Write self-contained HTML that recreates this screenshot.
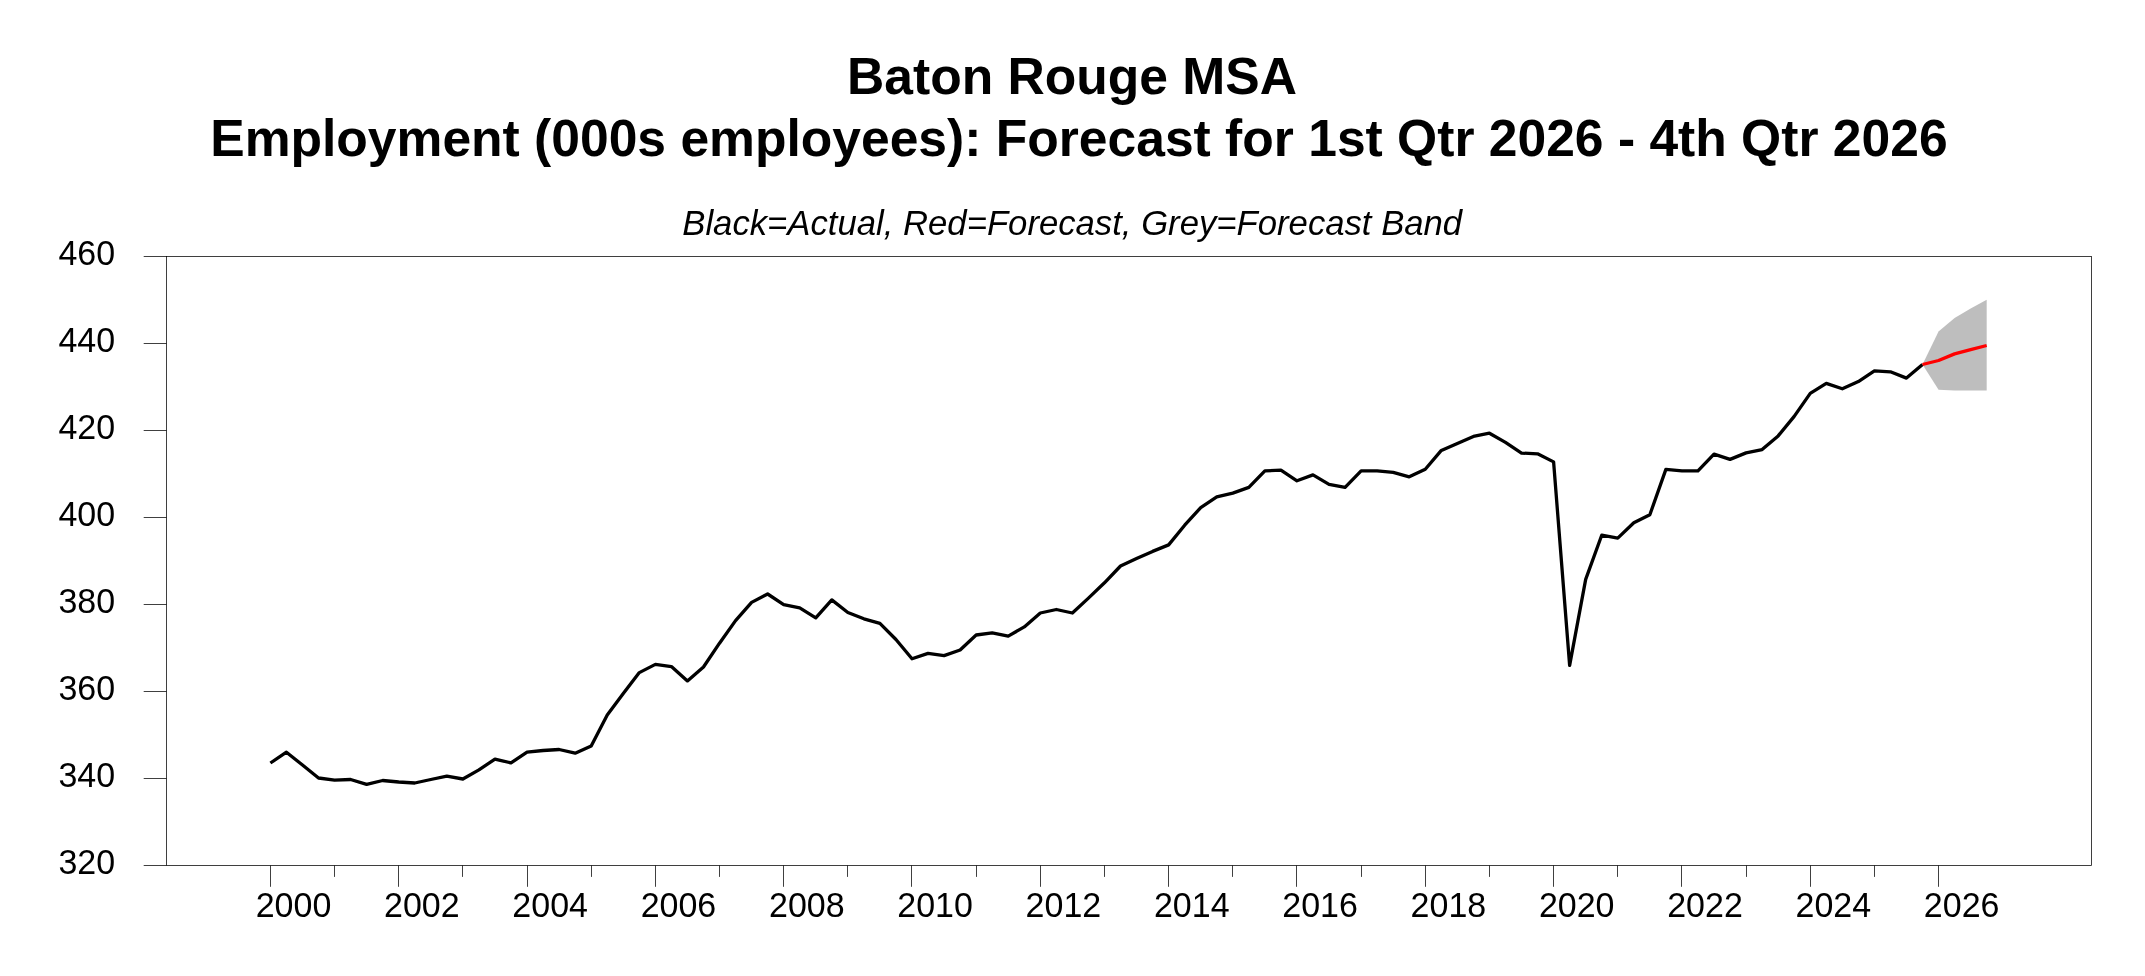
<!DOCTYPE html>
<html><head><meta charset="utf-8"><title>Baton Rouge MSA Employment Forecast</title>
<style>
html,body{margin:0;padding:0;background:#fff;}
body{width:2145px;height:976px;overflow:hidden;}
svg{display:block;will-change:transform;font-family:"Liberation Sans",sans-serif;}
.ax line,.ax rect{stroke:#000;stroke-width:0.75;fill:none;}
.lab text{font-size:34.0px;fill:#000;}
.ttl{font-size:51.6px;font-weight:bold;fill:#000;text-anchor:middle;white-space:pre;}
.sub{font-size:34.7px;font-style:italic;fill:#000;text-anchor:middle;}
</style></head>
<body>
<svg width="2145" height="976" viewBox="0 0 2145 976">
<rect x="0" y="0" width="2145" height="976" fill="#ffffff"/>
<text class="ttl" transform="translate(1072.00 93.80) scale(1 1.016)">Baton Rouge MSA</text>
<text class="ttl" transform="translate(1078.90 156.30) scale(1 1.016)">Employment (000s employees): Forecast for 1st Qtr 2026 - 4th Qtr 2026</text>
<text class="sub" transform="translate(1072.20 234.90) scale(1 1.033)">Black=Actual, Red=Forecast, Grey=Forecast Band</text>
<polygon points="1922.52,364.5 1938.56,331.5 1954.60,318.0 1970.64,308.6 1986.68,299.7 1986.68,390.4 1970.64,390.4 1954.60,390.4 1938.56,389.7 1922.52,364.5" fill="#bebebe"/>
<polyline points="270.40,763.0 286.44,752.2 302.48,765.0 318.52,778.0 334.56,780.1 350.60,779.5 366.64,784.4 382.68,780.5 398.72,782.0 414.76,783.0 430.80,779.5 446.84,776.2 462.88,779.0 478.92,769.9 494.96,759.1 511.00,762.9 527.04,752.2 543.08,750.5 559.12,749.5 575.16,753.2 591.20,746.0 607.24,715.0 623.28,693.6 639.32,672.6 655.36,664.4 671.40,666.6 687.44,680.9 703.48,667.0 719.52,643.2 735.56,620.6 751.60,602.4 767.64,594.0 783.68,604.6 799.72,607.8 815.76,617.9 831.80,599.9 847.84,612.5 863.88,618.8 879.92,623.4 895.96,639.5 912.00,658.8 928.04,653.4 944.08,655.6 960.12,650.0 976.16,635.0 992.20,632.8 1008.24,636.1 1024.28,626.9 1040.32,613.0 1056.36,609.5 1072.40,613.0 1088.44,598.1 1104.48,582.8 1120.52,566.0 1136.56,558.5 1152.60,551.4 1168.64,544.9 1184.68,525.2 1200.72,507.6 1216.76,496.9 1232.80,493.1 1248.84,487.4 1264.88,470.9 1280.92,470.1 1296.96,480.8 1313.00,474.9 1329.04,484.4 1345.08,487.4 1361.12,470.8 1377.16,470.8 1393.20,472.4 1409.24,476.8 1425.28,469.2 1441.32,450.4 1457.36,443.4 1473.40,436.4 1489.44,433.2 1505.48,442.4 1521.52,453.1 1537.56,453.8 1553.60,461.9 1569.64,665.4 1585.68,579.4 1601.72,535.2 1617.76,538.1 1633.80,522.8 1649.84,514.8 1665.88,469.4 1681.92,470.8 1697.96,470.9 1714.00,454.1 1730.04,459.4 1746.08,452.9 1762.12,449.6 1778.16,435.9 1794.20,416.4 1810.24,393.4 1826.28,383.4 1842.32,388.8 1858.36,381.6 1874.40,370.9 1890.44,371.8 1906.48,378.1 1922.52,364.5" fill="none" stroke="#000" stroke-width="3.3" stroke-linejoin="round" stroke-linecap="butt"/>
<polyline points="1922.52,364.5 1938.56,360.5 1954.60,353.9 1970.64,349.6 1986.68,345.5" fill="none" stroke="#ff0000" stroke-width="3.3" stroke-linejoin="round" stroke-linecap="butt"/>
<g class="ax">
<rect x="166.5" y="256.5" width="1925.0" height="609.0"/>
<line x1="143.7" y1="865.5" x2="166.5" y2="865.5"/><line x1="143.7" y1="778.5" x2="166.5" y2="778.5"/><line x1="143.7" y1="691.5" x2="166.5" y2="691.5"/><line x1="143.7" y1="604.5" x2="166.5" y2="604.5"/><line x1="143.7" y1="517.5" x2="166.5" y2="517.5"/><line x1="143.7" y1="430.5" x2="166.5" y2="430.5"/><line x1="143.7" y1="343.5" x2="166.5" y2="343.5"/><line x1="143.7" y1="256.5" x2="166.5" y2="256.5"/>
<line x1="270.5" y1="865.5" x2="270.5" y2="886.8"/><line x1="334.5" y1="865.5" x2="334.5" y2="876.9"/><line x1="398.5" y1="865.5" x2="398.5" y2="886.8"/><line x1="462.5" y1="865.5" x2="462.5" y2="876.9"/><line x1="527.5" y1="865.5" x2="527.5" y2="886.8"/><line x1="591.5" y1="865.5" x2="591.5" y2="876.9"/><line x1="655.5" y1="865.5" x2="655.5" y2="886.8"/><line x1="719.5" y1="865.5" x2="719.5" y2="876.9"/><line x1="783.5" y1="865.5" x2="783.5" y2="886.8"/><line x1="847.5" y1="865.5" x2="847.5" y2="876.9"/><line x1="911.5" y1="865.5" x2="911.5" y2="886.8"/><line x1="976.5" y1="865.5" x2="976.5" y2="876.9"/><line x1="1040.5" y1="865.5" x2="1040.5" y2="886.8"/><line x1="1104.5" y1="865.5" x2="1104.5" y2="876.9"/><line x1="1168.5" y1="865.5" x2="1168.5" y2="886.8"/><line x1="1232.5" y1="865.5" x2="1232.5" y2="876.9"/><line x1="1296.5" y1="865.5" x2="1296.5" y2="886.8"/><line x1="1361.5" y1="865.5" x2="1361.5" y2="876.9"/><line x1="1425.5" y1="865.5" x2="1425.5" y2="886.8"/><line x1="1489.5" y1="865.5" x2="1489.5" y2="876.9"/><line x1="1553.5" y1="865.5" x2="1553.5" y2="886.8"/><line x1="1617.5" y1="865.5" x2="1617.5" y2="876.9"/><line x1="1681.5" y1="865.5" x2="1681.5" y2="886.8"/><line x1="1746.5" y1="865.5" x2="1746.5" y2="876.9"/><line x1="1810.5" y1="865.5" x2="1810.5" y2="886.8"/><line x1="1874.5" y1="865.5" x2="1874.5" y2="876.9"/><line x1="1938.5" y1="865.5" x2="1938.5" y2="886.8"/>
</g>
<g class="lab">
<text text-anchor="end" transform="translate(115.10 874.30) scale(1 1.033)">320</text><text text-anchor="end" transform="translate(115.10 787.30) scale(1 1.033)">340</text><text text-anchor="end" transform="translate(115.10 700.30) scale(1 1.033)">360</text><text text-anchor="end" transform="translate(115.10 613.30) scale(1 1.033)">380</text><text text-anchor="end" transform="translate(115.10 526.30) scale(1 1.033)">400</text><text text-anchor="end" transform="translate(115.10 439.30) scale(1 1.033)">420</text><text text-anchor="end" transform="translate(115.10 352.30) scale(1 1.033)">440</text><text text-anchor="end" transform="translate(115.10 265.30) scale(1 1.033)">460</text>
<text transform="translate(255.70 916.90) scale(1 1.033)">2000</text><text transform="translate(384.02 916.90) scale(1 1.033)">2002</text><text transform="translate(512.34 916.90) scale(1 1.033)">2004</text><text transform="translate(640.66 916.90) scale(1 1.033)">2006</text><text transform="translate(768.98 916.90) scale(1 1.033)">2008</text><text transform="translate(897.30 916.90) scale(1 1.033)">2010</text><text transform="translate(1025.62 916.90) scale(1 1.033)">2012</text><text transform="translate(1153.94 916.90) scale(1 1.033)">2014</text><text transform="translate(1282.26 916.90) scale(1 1.033)">2016</text><text transform="translate(1410.58 916.90) scale(1 1.033)">2018</text><text transform="translate(1538.90 916.90) scale(1 1.033)">2020</text><text transform="translate(1667.22 916.90) scale(1 1.033)">2022</text><text transform="translate(1795.54 916.90) scale(1 1.033)">2024</text><text transform="translate(1923.86 916.90) scale(1 1.033)">2026</text>
</g>
</svg>
</body></html>
